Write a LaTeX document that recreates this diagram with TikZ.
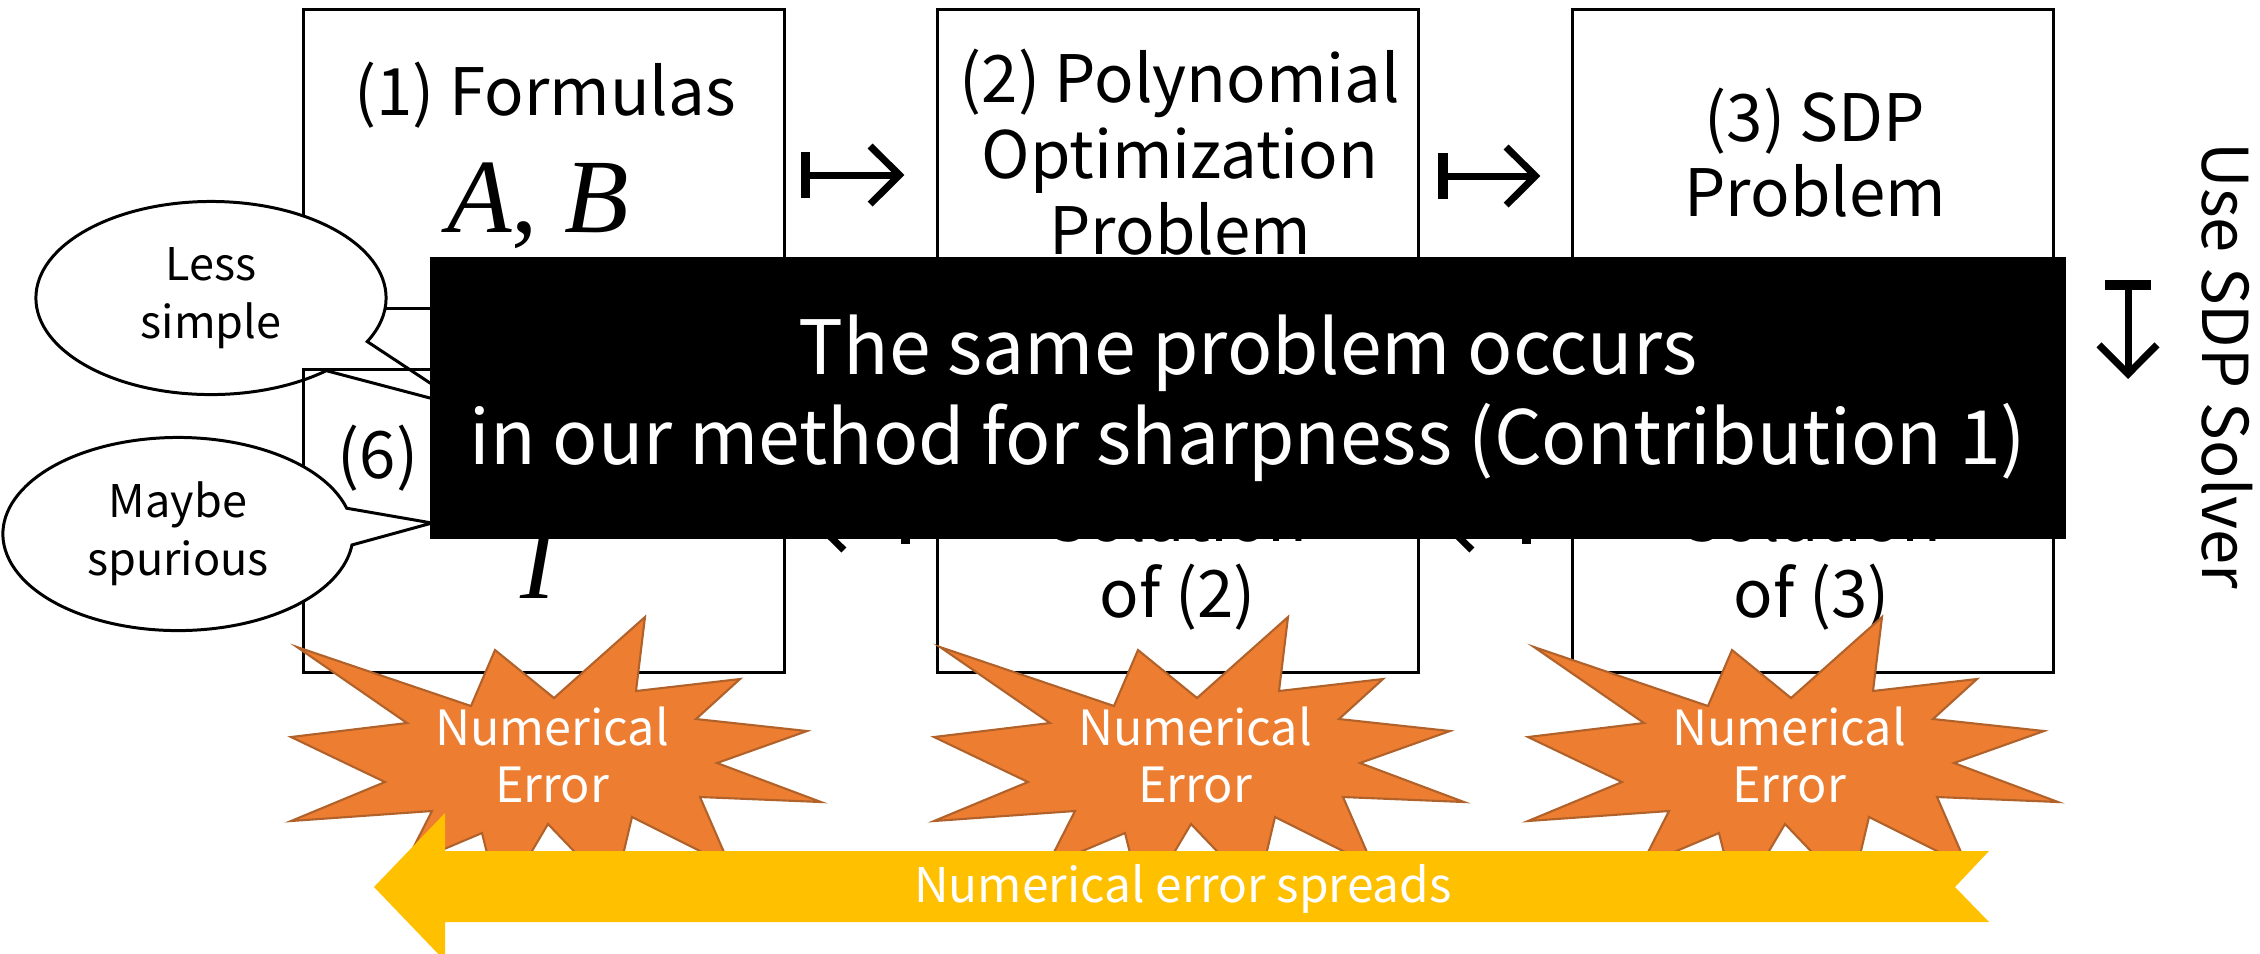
\documentclass[tikz,border=0pt]{standalone}
\usepackage{fontspec}
\setmainfont{Noto Sans CJK JP}
\newfontfamily\varfont{Liberation Serif}
\usetikzlibrary{arrows.meta,shapes.callouts}

\definecolor{burstfill}{HTML}{ED7D31}
\definecolor{burstline}{HTML}{B0622A}
\definecolor{spreadfill}{HTML}{FFC000}

\tikzset{
  stepbox/.style={draw, line width=.85pt, minimum width=4.8cm, minimum height=2.98cm, inner sep=0pt},
  boxtext/.style={anchor=base, inner sep=0pt, font=\fontsize{18.6}{21.6}\selectfont},
  vartext/.style={anchor=base, inner sep=0pt, font=\varfont\fontsize{30}{34}\selectfont},
  mapsto/.style={line width=2pt, {Bar[width=13pt, line width=2.8pt]}-{Straight Barb[length=8.3pt, width=16.5pt]}},
  bubble/.style={ellipse callout, draw, fill=white, line width=.85pt, inner sep=0pt,
    minimum width=3.5cm, minimum height=1.93cm, callout pointer arc=22, align=center,
    font=\fontsize{12.8}{16.5}\selectfont},
  burst/.style={fill=burstfill, draw=burstline, line width=.6pt},
  bursttext/.style={text=white, align=center, inner sep=0pt, font=\fontsize{13.8}{16.2}\selectfont},
}

\newcommand*{\Burst}[3]{% #1 = name, #2/#3 = centre
  \begin{scope}[shift={(#2,#3)}]
    \draw [burst] (-255,-108) -- (-81,-49) -- (-57,-105) -- (2,-57) -- (93,-138) -- (84,-64)
      -- (188,-76) -- (144,-36) -- (255,-24) -- (165,8) -- (269,47) -- (148,42) -- (178,111)
      -- (80,62) -- (62,138) -- (-4,69) -- (-52,150) -- (-70,78) -- (-148,111) -- (-120,56)
      -- (-261,66) -- (-167,27) -- (-261,-18) -- (-145,-32) -- cycle;
    \node [bursttext] (#1) at (0,0) {Numerical\\Error};
  \end{scope}}

\begin{document}
\begin{tikzpicture}[x=0.01cm, y=-0.01cm]
  \useasboundingbox (0,0) rectangle (2260,953);

  % upper row
  \foreach \x/\name in {544/up1, 1178/up2, 1813/up3}
    \node [stepbox] (\name) at (\x,159) {};
  \foreach \x/\y/\t [count=\i] in {545/115/{(1) Formulas}, 1180/102/{(2) Polynomial},
      1180/178/Optimization, 1180/254/Problem, 1815/141/{(3) SDP}, 1815/216/Problem}
    \node [boxtext] (title\i) at (\x,\y) {\t};
  \node [vartext] (formAB) at (538,232) {\itshape A\upshape, \itshape B};
  \draw [mapsto, shorten <=1.5mm, shorten >=3.2mm] ([yshift=-1.6mm]up1.east) -- ([yshift=-1.6mm]up2.west);
  \draw [mapsto, shorten <=1.8mm, shorten >=3.1mm] ([yshift=-1.7mm]up2.east) -- ([yshift=-1.7mm]up3.west);

  \node [bubble, callout absolute pointer={(468,408)}] (less) at (211,298) {Less\\simple};

  % lower row
  \foreach \x/\name in {544/lo1, 1178/lo2, 1813/lo3}
    \node [stepbox, minimum height=3.02cm] (\name) at (\x,521) {};
  \node [boxtext, anchor=base west] (six) at (337,478) {(6)};
  \node [vartext] (interp) at (538,598) {\itshape I};
  \foreach \x/\t [count=\i] in {1178/2, 1812/3} {
    \node [boxtext] (sol\i) at (\x,541) {Solution};
    \node [boxtext] (of\i) at (\x,617) {of (\t)};
  }
  \draw [mapsto, shorten <=2.6mm, shorten >=2.4mm] (lo2.west) -- (lo1.east);
  \draw [mapsto, shorten <=4mm, shorten >=1.8mm] (lo3.west) -- (lo2.east);
  \coordinate (solvetop) at (2128,280);
  \coordinate (solvebot) at (2128,379);
  \draw [mapsto] (solvetop) -- (solvebot);
  \node [rotate=-90, anchor=base, inner sep=0pt, font=\fontsize{18}{22}\selectfont] (solver) at (2202,366) {Use SDP Solver};

  \node [bubble, callout absolute pointer={(432,523)}] (maybe) at (178,534) {Maybe\\spurious};

  \Burst{err1}{552}{755}
  \Burst{err2}{1195}{755}
  \Burst{err3}{1789}{755}

  \fill [spreadfill] (374,887) -- (445,813) -- (445,851) -- (1989,851) -- (1955,887)
    -- (1989,922) -- (445,922) -- (445,961) -- cycle;
  \node [anchor=base, inner sep=0pt, text=white, font=\fontsize{13.6}{16}\selectfont] (spread) at (1183,902) {Numerical error spreads};

  \node [fill=black, text=white, minimum width=16.36cm, minimum height=2.82cm, inner sep=0pt,
    align=center, font=\fontsize{21.3}{25.6}\selectfont] (note) at (1248,398)
    {The same problem occurs\\in our method for sharpness (Contribution 1)};
\end{tikzpicture}
\end{document}
